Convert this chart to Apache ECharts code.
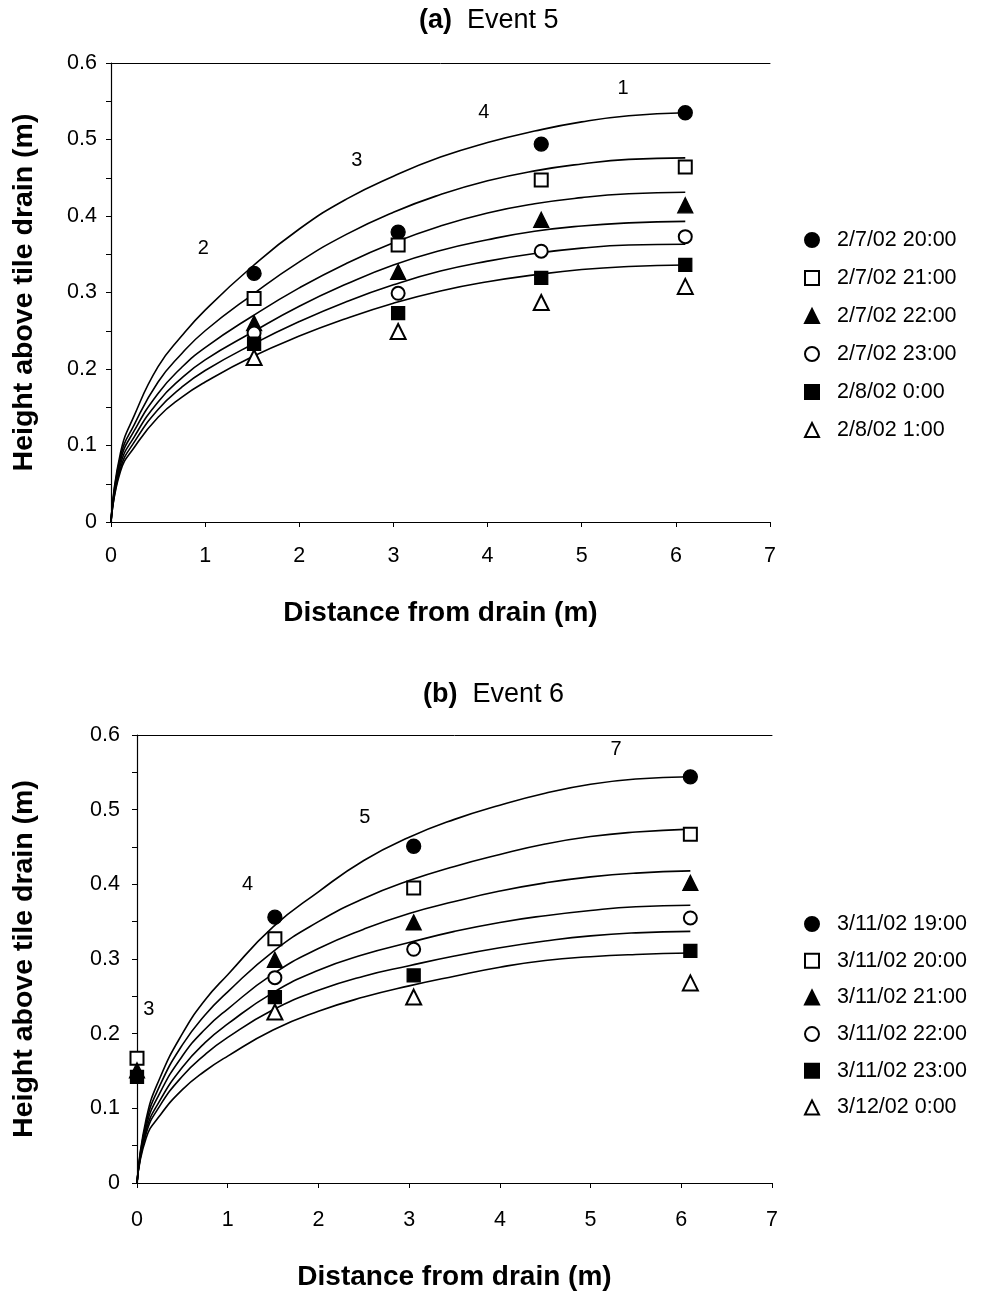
<!DOCTYPE html>
<html>
<head>
<meta charset="utf-8">
<script src="https://cdn.jsdelivr.net/npm/echarts@6.0.0/dist/echarts.min.js"></script>
<style>
  html, body { margin: 0; padding: 0; background: #fff; }
  #chart { width: 987px; height: 1291px; }
</style>
</head>
<body>
<div id="chart"></div>
<script>
const FONT = "'Liberation Sans', Arial, sans-serif";

const FIT_X = [0, 0.1, 0.25, 0.5, 0.75, 1, 1.5, 2, 2.5, 3, 3.5, 4, 4.5, 5, 5.5, 6.1];

// ---- (a) Event 5 ----
const A_NAMES = ["2/7/02 20:00", "2/7/02 21:00", "2/7/02 22:00", "2/7/02 23:00", "2/8/02 0:00", "2/8/02 1:00"];
const A_POINT_X = [1.52, 3.05, 4.57, 6.1];
const A_OBS = [
  [0.325, 0.379, 0.494, 0.535],
  [0.292, 0.362, 0.447, 0.464],
  [0.260, 0.327, 0.395, 0.414],
  [0.247, 0.299, 0.354, 0.373],
  [0.233, 0.273, 0.319, 0.336],
  [0.215, 0.249, 0.287, 0.308],
];
const A_FIT = [
  [0, 0.090, 0.140, 0.203, 0.243, 0.277, 0.334, 0.383, 0.422, 0.452, 0.477, 0.496, 0.511, 0.523, 0.531, 0.535],
  [0, 0.085, 0.128, 0.183, 0.220, 0.250, 0.297, 0.340, 0.376, 0.405, 0.428, 0.446, 0.459, 0.468, 0.474, 0.476],
  [0, 0.080, 0.120, 0.168, 0.202, 0.228, 0.269, 0.306, 0.338, 0.365, 0.387, 0.404, 0.416, 0.424, 0.429, 0.431],
  [0, 0.075, 0.112, 0.157, 0.188, 0.212, 0.248, 0.282, 0.311, 0.336, 0.355, 0.369, 0.380, 0.387, 0.391, 0.393],
  [0, 0.070, 0.105, 0.147, 0.176, 0.198, 0.232, 0.262, 0.288, 0.310, 0.328, 0.341, 0.351, 0.358, 0.362, 0.363],
  [0, 0.066, 0.098, 0.137, 0.163, 0.183, 0.216, 0.243, 0.266, 0.286, 0.302, 0.314, 0.323, 0.330, 0.334, 0.336],
];
const A_NOTES = [[0.98, 0.357, "2"], [2.61, 0.473, "3"], [3.96, 0.535, "4"], [5.44, 0.567, "1"]];

// ---- (b) Event 6 ----
const B_NAMES = ["3/11/02 19:00", "3/11/02 20:00", "3/11/02 21:00", "3/11/02 22:00", "3/11/02 23:00", "3/12/02 0:00"];
const B_POINT_X = [0, 1.52, 3.05, 6.1];
const B_OBS = [
  [null, 0.356, 0.451, 0.544],
  [0.167, 0.327, 0.395, 0.467],
  [0.151, 0.299, 0.349, 0.402],
  [null, 0.275, 0.313, 0.355],
  [0.142, 0.249, 0.278, 0.311],
  [null, 0.229, 0.249, 0.268],
];
const B_FIT = [
  [0, 0.085, 0.140, 0.200, 0.245, 0.279, 0.343, 0.390, 0.432, 0.463, 0.487, 0.506, 0.522, 0.534, 0.541, 0.544],
  [0, 0.080, 0.130, 0.185, 0.225, 0.256, 0.310, 0.350, 0.381, 0.405, 0.424, 0.440, 0.454, 0.464, 0.470, 0.474],
  [0, 0.075, 0.120, 0.170, 0.206, 0.233, 0.280, 0.314, 0.340, 0.361, 0.377, 0.391, 0.402, 0.410, 0.415, 0.418],
  [0, 0.070, 0.110, 0.155, 0.188, 0.213, 0.255, 0.285, 0.306, 0.322, 0.337, 0.349, 0.358, 0.365, 0.370, 0.372],
  [0, 0.066, 0.103, 0.143, 0.172, 0.195, 0.232, 0.258, 0.277, 0.291, 0.304, 0.315, 0.324, 0.331, 0.335, 0.337],
  [0, 0.060, 0.090, 0.125, 0.150, 0.170, 0.205, 0.230, 0.249, 0.264, 0.277, 0.289, 0.298, 0.303, 0.306, 0.308],
];
const B_NOTES = [[0.13, 0.232, "3"], [1.22, 0.40, "4"], [2.51, 0.49, "5"], [5.28, 0.58, "7"]];

const SYMBOLS = ["circle", "emptyRect", "triangle", "emptyCircle", "rect", "emptyTriangle"];
const SYMBOL_SIZE = [14, 13, 15, 13, 13, 15];

const black = "#000";
const labelFont = { color: black, fontFamily: FONT };

function panelAxes(g, nameGapX, nameGapY, labelMarginX, labelMarginY) {
  const xBottom = {
    gridIndex: g, type: "value", min: 0, max: 7, interval: 1,
    axisLine: { show: true, onZero: false, lineStyle: { color: black, width: 1.2 } },
    axisTick: { show: true, length: 5, lineStyle: { color: black } },
    axisLabel: { ...labelFont, fontSize: 21.5, margin: labelMarginX },
    splitLine: { show: false },
    name: "Distance from drain (m)", nameLocation: "middle", nameGap: nameGapX,
    nameTextStyle: { ...labelFont, fontSize: 28, fontWeight: "bold" },
  };
  // top edge of the plot frame
  const xTop = {
    gridIndex: g, type: "value", position: "top", min: 0, max: 7,
    axisLine: { show: true, onZero: false, lineStyle: { color: black, width: 1 } },
    axisTick: { show: false }, axisLabel: { show: false }, splitLine: { show: false },
  };
  const y = {
    gridIndex: g, type: "value", min: 0, max: 0.6, interval: 0.1,
    axisLine: { show: true, onZero: false, lineStyle: { color: black, width: 1.2 } },
    axisTick: { show: true, length: 5, lineStyle: { color: black } },
    minorTick: { show: true, splitNumber: 2, length: 5, lineStyle: { color: black } },
    axisLabel: { ...labelFont, fontSize: 21.5, margin: labelMarginY,
      formatter: (v) => (v === 0 ? "0" : v.toFixed(1)) },
    splitLine: { show: false },
    name: "Height above tile drain (m)", nameLocation: "middle", nameGap: nameGapY,
    nameTextStyle: { ...labelFont, fontSize: 28.5, fontWeight: "bold" },
  };
  return { x: [xBottom, xTop], y };
}

function panelSeries(g, names, pointX, obs, fits, notes) {
  const out = [];
  fits.forEach((vals) => {
    out.push({
      type: "line", xAxisIndex: g * 2, yAxisIndex: g,
      data: FIT_X.map((x, i) => [x, vals[i]]),
      smooth: 0.5, symbol: "none", silent: true,
      lineStyle: { color: black, width: 1.6 },
      z: 2,
    });
  });
  obs.forEach((vals, k) => {
    out.push({
      type: "scatter", name: names[k], xAxisIndex: g * 2, yAxisIndex: g,
      data: pointX.map((x, i) => [x, vals[i]]).filter((p) => p[1] != null),
      symbol: SYMBOLS[k], symbolSize: SYMBOL_SIZE[k], clip: false,
      itemStyle: { color: black, borderColor: black, borderWidth: 1.3, opacity: 1 },
      z: 3,
    });
  });
  out.push({
    type: "scatter", xAxisIndex: g * 2, yAxisIndex: g,
    data: notes, symbolSize: 0, silent: true,
    itemStyle: { opacity: 1 },
    label: { show: true, position: "inside", formatter: (p) => p.value[2], ...labelFont, fontSize: 20 },
  });
  return out;
}

const axA = panelAxes(0, 77, 72, 23, 14);
const axB = panelAxes(1, 80, 98, 26, 17);

function legendFor(names, top, gap) {
  return {
    orient: "vertical", left: 799, top, itemWidth: 14, itemHeight: 14, itemGap: gap,
    selectedMode: false,
    data: names.map((n, k) => ({ name: n, icon: SYMBOLS[k] })),
    textStyle: { ...labelFont, fontSize: 21.5, padding: [0, 0, 0, 13] },
  };
}

const titleStyle = { ...labelFont, fontSize: 27, fontWeight: "normal",
  rich: { b: { ...labelFont, fontSize: 27, fontWeight: "bold" } } };

const chart = echarts.init(document.getElementById("chart"), null, { renderer: "canvas" });
chart.setOption({
  animation: false,
  backgroundColor: "#fff",
  title: [
    { text: "{b|(a)}  Event 5", left: 414, top: 2, textStyle: titleStyle },
    { text: "{b|(b)}  Event 6", left: 418, top: 676, textStyle: titleStyle },
  ],
  legend: [legendFor(A_NAMES, 224, 16), legendFor(B_NAMES, 908, 14.7)],
  grid: [
    { left: 111, top: 63, width: 659, height: 459, outerBoundsMode: "none" },
    { left: 137, top: 735, width: 635, height: 448, outerBoundsMode: "none" },
  ],
  xAxis: [...axA.x, ...axB.x],
  yAxis: [axA.y, axB.y],
  series: [
    ...panelSeries(0, A_NAMES, A_POINT_X, A_OBS, A_FIT, A_NOTES),
    ...panelSeries(1, B_NAMES, B_POINT_X, B_OBS, B_FIT, B_NOTES),
  ],
});
</script>
</body>
</html>
